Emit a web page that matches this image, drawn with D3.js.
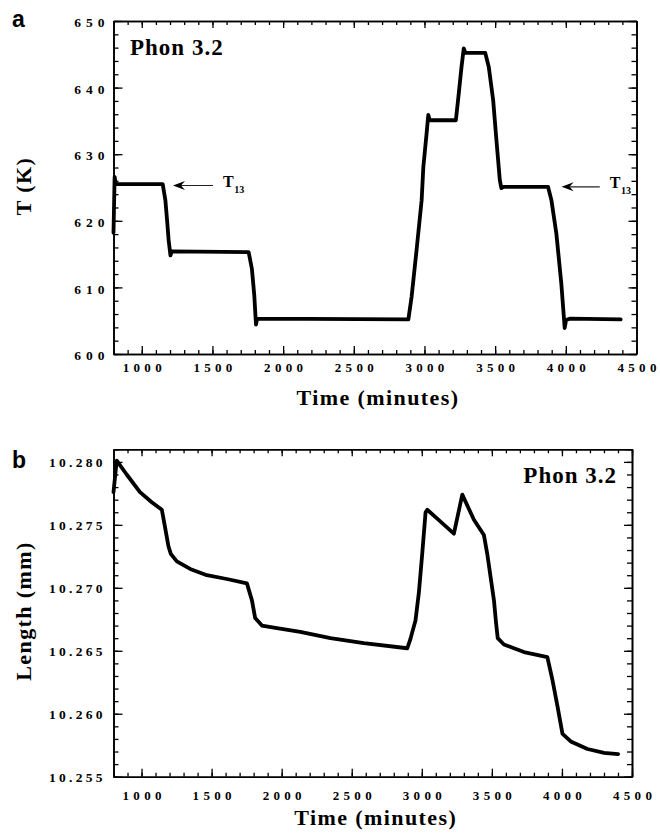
<!DOCTYPE html>
<html>
<head>
<meta charset="utf-8">
<script src="https://cdn.jsdelivr.net/npm/d3@7"></script>
<style>
  html, body { margin: 0; padding: 0; background: #fff; }
  svg { display: block; }
  .serif { font-family: "Liberation Serif", "Times New Roman", serif; font-weight: bold; }
</style>
</head>
<body>
<svg id="chart" width="660" height="835"></svg>
<script>
// ---------- data ----------
const tempTime = [800, 808, 816, 1148, 1167, 1179, 1190, 1203, 1212, 1756, 1779, 1796, 1808, 1816,
  2886, 2909, 2944, 2980, 2992, 3015, 3027, 3037, 3222, 3240, 3262, 3278, 3290, 3430, 3455, 3486,
  3509, 3533, 3544, 3560, 3874, 3898, 3933, 3968, 3992, 4002, 4027, 4388];
const tempK = [618.2, 626.6, 625.5, 625.5, 623.1, 620.1, 617.1, 614.8, 615.4, 615.3, 612.8, 608.8, 604.4, 605.3,
  605.2, 608.6, 615.6, 623.1, 628.1, 633.1, 635.9, 635.1, 635.1, 638.6, 643.1, 645.9, 645.2, 645.2, 643.1, 638.1,
  632.1, 626.1, 624.9, 625.1, 625.1, 623.1, 618.1, 610.6, 603.9, 605.1, 605.3, 605.2];

const lenTime = [800, 823, 894, 989, 1073, 1145, 1168, 1192, 1209, 1252, 1347, 1466, 1609, 1752, 1788, 1811,
  1859, 1966, 2133, 2348, 2586, 2896, 2918, 2935, 2955, 2979, 3003, 3027, 3039, 3110, 3229, 3289, 3372,
  3443, 3467, 3515, 3530, 3542, 3586, 3729, 3896, 3932, 3968, 4004, 4063, 4182, 4301, 4401];
const lenMM = [10.2776, 10.2801, 10.2790, 10.2776, 10.2768, 10.2762, 10.2748, 10.2733, 10.2727, 10.2721,
  10.2715, 10.2710, 10.2707, 10.27035, 10.2690, 10.2676, 10.2670, 10.2668, 10.2665, 10.2660, 10.2656,
  10.2652, 10.2659, 10.2666, 10.2674, 10.2696, 10.2727, 10.2760, 10.2762, 10.2755, 10.2743, 10.2774,
  10.2754, 10.2742, 10.2727, 10.2690, 10.2672, 10.2660, 10.2655, 10.2649, 10.2645, 10.2627, 10.2606,
  10.2584, 10.2578, 10.2572, 10.2569, 10.2568];

const timeTicks = [1000, 1500, 2000, 2500, 3000, 3500, 4000, 4500];
const tempTicks = [600, 610, 620, 630, 640, 650];
const lenTicks = [10.255, 10.260, 10.265, 10.270, 10.275, 10.280];
const timeMinor = d3.range(800, 4501, 100);
const tempMinor = d3.range(600, 651, 2);
const lenMinor = d3.range(0, 27).map(i => 10.255 + i * 0.001);

// annotation arrows: [tipTime, tailTime, level]
const t13Arrows = [[1221, 1504, 625.3], [3970, 4240, 625.1]];

// ---------- drawing ----------
const svg = d3.select("#chart");
const timeFmt = d3.format("d");

function drawPanel(cfg) {
  const g = svg.append("g");
  const x = d3.scaleLinear().domain([800, 4500]).range([cfg.left, cfg.right]);
  const y = d3.scaleLinear().domain(cfg.yDomain).range([cfg.bottom, cfg.top]);

  // minor ticks (all four sides)
  g.append("g").attr("transform", `translate(0,${cfg.bottom})`)
    .call(d3.axisBottom(x).tickValues(timeMinor).tickSizeInner(-4).tickSizeOuter(0).tickFormat(""));
  g.append("g").attr("transform", `translate(0,${cfg.top})`)
    .call(d3.axisTop(x).tickValues(timeMinor).tickSizeInner(-4).tickSizeOuter(0).tickFormat(""));
  g.append("g").attr("transform", `translate(${cfg.left},0)`)
    .call(d3.axisLeft(y).tickValues(cfg.yMinor).tickSizeInner(-5).tickSizeOuter(0).tickFormat(""));
  g.append("g").attr("transform", `translate(${cfg.right},0)`)
    .call(d3.axisRight(y).tickValues(cfg.yMinor).tickSizeInner(-5).tickSizeOuter(0).tickFormat(""));

  // major ticks with labels
  const xb = g.append("g").attr("transform", `translate(0,${cfg.bottom})`)
    .call(d3.axisBottom(x).tickValues(timeTicks).tickSizeInner(-8).tickSizeOuter(0)
      .tickPadding(cfg.xPad).tickFormat(timeFmt));
  g.append("g").attr("transform", `translate(0,${cfg.top})`)
    .call(d3.axisTop(x).tickValues(timeTicks).tickSizeInner(-7).tickSizeOuter(0).tickFormat(""));
  const yl = g.append("g").attr("transform", `translate(${cfg.left},0)`)
    .call(d3.axisLeft(y).tickValues(cfg.yTicks).tickSizeInner(-9).tickSizeOuter(0)
      .tickPadding(cfg.yPad).tickFormat(cfg.yFmt));
  g.append("g").attr("transform", `translate(${cfg.right},0)`)
    .call(d3.axisRight(y).tickValues(cfg.yTicks).tickSizeInner(-8).tickSizeOuter(0).tickFormat(""));

  g.selectAll(".domain").attr("stroke", "#000").attr("stroke-width", 1.6);
  g.selectAll(".tick line").attr("stroke", "#000").attr("stroke-width", 1.3);

  xb.selectAll("text").attr("class", "serif").attr("fill", "#000")
    .style("font-size", "13px").style("letter-spacing", "4.3px").attr("dx", "2.1px");
  yl.selectAll("text").attr("class", "serif").attr("fill", "#000")
    .style("font-size", cfg.yFont + "px").style("letter-spacing", cfg.ySpace + "px")
    .attr("dx", cfg.ySpace + "px").attr("dy", cfg.yDy);

  // data line
  const line = d3.line().x(d => x(d[0])).y(d => y(d[1]));
  g.append("path")
    .datum(cfg.times.map((t, i) => [t, cfg.values[i]]))
    .attr("d", line)
    .attr("fill", "none").attr("stroke", "#000")
    .attr("stroke-width", 3.8).attr("stroke-linejoin", "round").attr("stroke-linecap", "round");

  // axis titles
  g.append("text").attr("class", "serif")
    .attr("x", (cfg.left + cfg.right) / 2 + 3).attr("y", cfg.xTitleY)
    .attr("text-anchor", "middle").style("font-size", "22px").style("letter-spacing", "1.4px")
    .text("Time  (minutes)");
  g.append("text").attr("class", "serif")
    .attr("transform", `translate(${cfg.yTitleX},${cfg.yTitleCY}) rotate(-90)`)
    .attr("text-anchor", "middle").style("font-size", "22px").style("letter-spacing", "1.4px")
    .text(cfg.yTitle);

  // panel letter
  g.append("text").attr("x", 12).attr("y", cfg.letterY)
    .style("font-family", "'Liberation Sans', Arial, sans-serif").style("font-weight", "bold")
    .style("font-size", "23px").text(cfg.letter);

  // Phon label
  g.append("text").attr("class", "serif")
    .attr("x", cfg.phonX).attr("y", cfg.phonY).attr("text-anchor", cfg.phonAnchor)
    .style("font-size", "23px").style("letter-spacing", "1px")
    .text("Phon  3.2");

  return { g, x, y };
}

const panelA = drawPanel({
  left: 113.5, right: 636.5, top: 21, bottom: 354,
  yDomain: [600, 650], yTicks: tempTicks, yMinor: tempMinor, yFmt: d3.format("d"),
  xPad: 9, yPad: 9, yFont: 13.5, ySpace: 5, yDy: "0.42em",
  times: tempTime, values: tempK,
  xTitleY: 405, yTitleX: 31, yTitleCY: 186, yTitle: "T  (K)",
  letter: "a", letterY: 27,
  phonX: 130, phonY: 55, phonAnchor: "start"
});

const panelB = drawPanel({
  left: 113.5, right: 632, top: 449.3, bottom: 776.7,
  yDomain: [10.255, 10.281], yTicks: lenTicks, yMinor: lenMinor, yFmt: d3.format(".3f"),
  xPad: 14.5, yPad: 11, yFont: 13.5, ySpace: 3.3, yDy: "0.34em",
  times: lenTime, values: lenMM,
  xTitleY: 824.5, yTitleX: 31, yTitleCY: 611, yTitle: "Length  (mm)",
  letter: "b", letterY: 468,
  phonX: 617, phonY: 483, phonAnchor: "end"
});

// T13 annotations (top panel)
t13Arrows.forEach(([tip, tail, lvl]) => {
  const xt = panelA.x(tip), xe = panelA.x(tail), yy = panelA.y(lvl);
  const a = panelA.g.append("g");
  a.append("line").attr("x1", xt + 6).attr("x2", xe).attr("y1", yy).attr("y2", yy)
    .attr("stroke", "#222").attr("stroke-width", 1.2);
  a.append("path")
    .attr("d", `M${xt},${yy} L${xt + 12},${yy - 4.5} L${xt + 8},${yy} L${xt + 12},${yy + 4.5} Z`)
    .attr("fill", "#000");
  const t = a.append("text").attr("class", "serif").attr("x", xe + 10).attr("y", yy + 1.5)
    .style("font-size", "16px");
  t.append("tspan").text("T");
  t.append("tspan").attr("dy", 6).attr("dx", 0.5).style("font-size", "10px").text("13");
});
</script>
</body>
</html>
